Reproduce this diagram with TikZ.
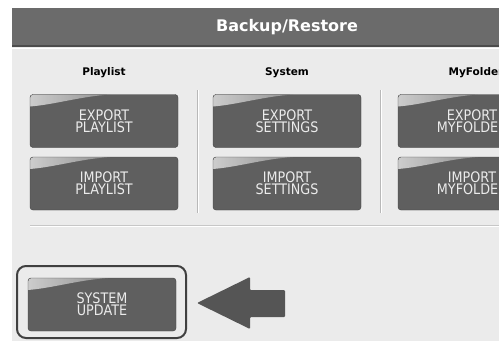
\documentclass[tikz,border=0pt]{standalone}
\usepackage{fontspec}
\setsansfont{DejaVu Sans}
\newfontfamily\btnfont{DejaVu Sans}[FakeStretch=0.88]
\definecolor{screen}{HTML}{EBEBEB}
\definecolor{header}{HTML}{6B6B6B}
\definecolor{btngray}{HTML}{5F5F5F}
\definecolor{arrowgray}{HTML}{555555}

\begin{document}
\begin{tikzpicture}[x=1pt,y=-1pt]
		\tikzstyle{title}=[text=white,font=\sffamily\bfseries\fontsize{16}{18}\selectfont]
		\tikzstyle{colhead}=[text=black,font=\sffamily\bfseries\fontsize{10.5}{12}\selectfont]
		\tikzstyle{button}=[draw=black!75,fill=btngray,rounded corners=3pt,minimum width=148pt,minimum height=53pt,inner sep=0pt,align=center,text=black!8,font=\btnfont\fontsize{14.5}{12}\selectfont,
			path picture={\shade[sharp corners,left color=black!20,right color=btngray] (path picture bounding box.north west) -- ++(80,0) .. controls +(-30,2) and +(25,-2) .. ++(-80,12) -- cycle;}]
		\tikzstyle{outline}=[draw=black!75,line width=2pt,rounded corners=9pt,minimum width=169pt,minimum height=72pt]
		
		\useasboundingbox (0,0) rectangle (499,341);
		\clip (0,0) rectangle (499,341);
		
		% screen and title bar
		\fill[screen] (12,8) rectangle (499,341);
		\fill[header] (12,8) rectangle (499,46);
		\draw[black!70,line width=1.5pt] (12,46) -- (499,46);
		\draw[white,line width=1pt] (12,48) -- (499,48);
		\node[title](title) at (287,27){Backup/Restore};
		
		\node[colhead](hplay) at (104,73){Playlist};
		\node[colhead](hsys) at (287,73){System};
		\node[colhead](hfold) at (476,73){MyFolder};
		
		% separators
		\draw[black!28,line width=1pt] (197,90) -- (197,213);
		\draw[white,line width=1pt] (198.5,90) -- (198.5,213);
		\draw[black!28,line width=1pt] (380,90) -- (380,213);
		\draw[white,line width=1pt] (381.5,90) -- (381.5,213);
		\draw[black!22,line width=1pt] (30,225) -- (499,225);
		\draw[white,line width=1pt] (30,226.5) -- (499,226.5);
		
		\node[button](expplay) at (104,121){EXPORT\\PLAYLIST};
		\node[button](impplay) at (104,183.5){IMPORT\\PLAYLIST};
		\node[button](expsys) at (287,121){EXPORT\\SETTINGS};
		\node[button](impsys) at (287,183.5){IMPORT\\SETTINGS};
		\node[button](expfold) at (472,121){EXPORT\\MYFOLDER};
		\node[button](impfold) at (472,183.5){IMPORT\\MYFOLDER};
		
		\node[button](upd) at (102,304.5){SYSTEM\\UPDATE};
		\node[outline](frame) at (101.5,302){};
		
		\fill[arrowgray,rounded corners=1pt] (197,303) -- (250,277) -- (250,290) -- (285,290) -- (285,317) -- (250,317) -- (250,329) -- cycle;
\end{tikzpicture}
\end{document}
